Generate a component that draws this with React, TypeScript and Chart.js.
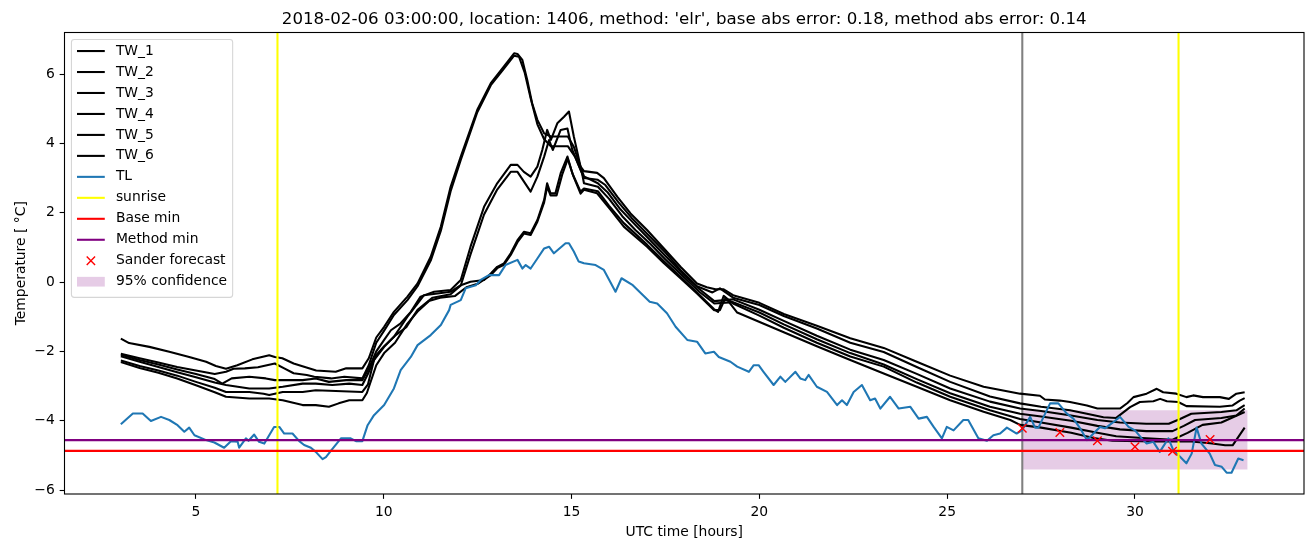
import React, { useEffect, useRef } from "react";
import { Chart, registerables } from "chart.js";

Chart.register(...registerables);

// ---------- data ----------
const X_TICKS = [5, 10, 15, 20, 25, 30];
const Y_TICKS = [-6, -4, -2, 0, 2, 4, 6];
const X_MIN = 1.5;
const X_MAX = 34.5;
const Y_MIN = -6.115;
const Y_MAX = 7.2;

const SUNRISE_T = [7.17, 31.16];
const NOW_T = 27.0;
const BASE_MIN = -4.87;
const METHOD_MIN = -4.56;
const SANDER_T = [27, 28, 29, 30, 31, 32];
const SANDER_V = [-4.22, -4.34, -4.58, -4.75, -4.88, -4.54];
const CONF_T = [27, 33];
const CONF_HI = -3.7;
const CONF_LO = -5.41;

const TW_1: [number, number][] = [
  [3.0, -1.63], [3.22, -1.76], [3.76, -1.87], [4.29, -2.01], [4.82, -2.16], [5.27, -2.3], [5.53, -2.42], [5.8, -2.5],
  [6.1, -2.4], [6.5, -2.23], [6.95, -2.11], [7.1, -2.16], [7.3, -2.2], [7.6, -2.35], [7.9, -2.45], [8.2, -2.55],
  [8.72, -2.59], [9.0, -2.49], [9.43, -2.49], [9.6, -2.2], [9.8, -1.6], [10.01, -1.29], [10.27, -0.86], [10.63, -0.42],
  [10.9, -0.04], [11.25, 0.73], [11.52, 1.6], [11.78, 2.75], [12.05, 3.62], [12.49, 4.97], [12.85, 5.74], [13.2, 6.22],
  [13.47, 6.6], [13.56, 6.58], [13.69, 6.41], [13.82, 5.83], [13.95, 5.16], [14.09, 4.68], [14.27, 4.29], [14.45, 4.2],
  [14.9, 4.2], [15.06, 3.9], [15.24, 3.33], [15.33, 3.2], [15.68, 3.15], [15.86, 3.0], [16.22, 2.46], [16.57, 1.98],
  [17.01, 1.5], [17.46, 0.97], [17.9, 0.44], [18.34, -0.04], [18.6, -0.15], [18.83, -0.21], [19.05, -0.21], [19.3, -0.38],
  [20.0, -0.6], [20.65, -0.92], [21.53, -1.26], [22.42, -1.62], [23.31, -1.9], [24.19, -2.3], [25.08, -2.7], [25.97, -3.02],
  [26.94, -3.22], [27.47, -3.28], [27.6, -3.39], [28.0, -3.42], [28.27, -3.46], [28.72, -3.56], [29.0, -3.65], [29.6, -3.65],
  [29.8, -3.49], [29.96, -3.32], [30.31, -3.22], [30.58, -3.08], [30.75, -3.18], [31.1, -3.22], [31.37, -3.32], [31.55, -3.27],
  [31.81, -3.32], [32.26, -3.32], [32.5, -3.37], [32.7, -3.22], [32.92, -3.18],
];

const TW_2: [number, number][] = [
  [3.0, -2.07], [3.5, -2.2], [4.0, -2.32], [4.5, -2.45], [5.0, -2.55], [5.5, -2.65], [5.8, -2.59], [6.0, -2.5],
  [6.3, -2.49], [6.65, -2.46], [7.1, -2.35], [7.35, -2.49], [7.6, -2.63], [7.95, -2.68], [8.15, -2.73], [8.6, -2.78],
  [8.95, -2.73], [9.43, -2.78], [9.6, -2.4], [9.8, -1.75], [10.01, -1.4], [10.27, -0.95], [10.63, -0.52], [10.9, -0.12],
  [11.25, 0.62], [11.52, 1.48], [11.78, 2.62], [12.05, 3.52], [12.49, 4.9], [12.85, 5.68], [13.2, 6.16], [13.47, 6.53],
  [13.6, 6.5], [13.75, 6.05], [13.9, 5.35], [14.09, 4.55], [14.27, 4.12], [14.45, 3.92], [14.9, 3.92], [15.1, 3.6],
  [15.33, 3.0], [15.7, 2.95], [15.9, 2.8], [16.25, 2.3], [16.6, 1.85], [17.05, 1.35], [17.5, 0.85], [17.9, 0.35],
  [18.34, -0.12], [18.75, -0.3], [18.95, -0.18], [19.3, -0.45], [20.0, -0.66], [20.65, -0.98], [21.53, -1.34], [22.42, -1.75],
  [23.31, -2.02], [24.19, -2.45], [25.08, -2.88], [26.14, -3.3], [26.94, -3.5], [27.5, -3.6], [28.27, -3.7], [28.72, -3.8],
  [29.16, -3.9], [29.5, -3.92], [29.87, -3.61], [30.13, -3.46], [30.49, -3.44], [30.67, -3.37], [30.85, -3.44], [31.15, -3.46],
  [31.37, -3.58], [32.26, -3.6], [32.6, -3.56], [32.79, -3.42], [32.92, -3.35],
];

const TW_3: [number, number][] = [
  [3.0, -2.1], [3.5, -2.25], [4.0, -2.38], [4.5, -2.52], [5.0, -2.65], [5.5, -2.8], [5.7, -2.93], [5.95, -2.78],
  [6.42, -2.73], [6.86, -2.78], [7.1, -2.83], [7.84, -2.83], [8.19, -2.78], [8.54, -2.88], [9.0, -2.83], [9.43, -2.83],
  [9.6, -2.5], [9.8, -2.0], [10.01, -1.67], [10.19, -1.39], [10.45, -1.19], [10.72, -0.86], [10.98, -0.42], [11.34, -0.28],
  [11.78, -0.23], [12.05, 0.06], [12.31, 1.02], [12.67, 2.17], [13.02, 2.85], [13.38, 3.38], [13.56, 3.38], [13.73, 3.18],
  [13.91, 3.04], [14.09, 3.33], [14.22, 3.81], [14.35, 4.39], [14.45, 4.1], [14.62, 4.58], [14.8, 4.77], [14.93, 4.92],
  [15.06, 4.2], [15.24, 3.33], [15.33, 3.05], [15.7, 2.85], [15.95, 2.6], [16.3, 2.1], [16.65, 1.7], [17.1, 1.2],
  [17.5, 0.75], [17.95, 0.25], [18.4, -0.2], [18.8, -0.55], [19.3, -0.5], [20.0, -0.8], [20.65, -1.12], [21.53, -1.55],
  [22.42, -1.95], [23.31, -2.25], [24.19, -2.65], [25.08, -3.07], [26.14, -3.45], [26.94, -3.65], [27.5, -3.72], [28.3, -3.85],
  [29.0, -3.98], [29.6, -4.05], [30.3, -4.09], [30.9, -4.09], [31.2, -3.95], [31.5, -3.8], [32.3, -3.75], [32.7, -3.7],
  [32.92, -3.55],
];

const TW_4: [number, number][] = [
  [3.0, -2.14], [3.5, -2.3], [4.0, -2.45], [4.5, -2.6], [5.0, -2.75], [5.5, -2.9], [5.8, -2.97], [6.42, -3.07],
  [6.95, -3.07], [7.31, -3.02], [7.84, -2.93], [8.19, -2.93], [8.63, -2.97], [9.08, -2.93], [9.43, -2.97], [9.6, -2.6],
  [9.8, -2.1], [10.01, -1.85], [10.3, -1.55], [10.6, -1.3], [10.9, -0.8], [11.3, -0.45], [11.78, -0.35], [12.05, -0.1],
  [12.31, 0.8], [12.67, 1.95], [13.02, 2.67], [13.38, 3.18], [13.56, 3.18], [13.91, 2.61], [14.09, 3.04], [14.27, 3.62],
  [14.4, 4.1], [14.5, 3.81], [14.71, 4.39], [14.89, 4.43], [15.02, 3.81], [15.28, 3.14], [15.33, 2.85], [15.7, 2.75],
  [16.0, 2.4], [16.35, 1.9], [16.7, 1.5], [17.1, 1.1], [17.5, 0.65], [17.95, 0.18], [18.4, -0.28], [18.8, -0.62],
  [19.3, -0.58], [20.0, -0.88], [20.65, -1.22], [21.53, -1.65], [22.42, -2.05], [23.31, -2.38], [24.19, -2.8], [25.08, -3.21],
  [26.14, -3.6], [26.94, -3.8], [27.5, -3.88], [28.3, -4.0], [29.0, -4.15], [29.6, -4.25], [30.3, -4.3], [31.0, -4.3],
  [31.3, -4.15], [31.6, -3.98], [32.3, -3.92], [32.7, -3.85], [32.92, -3.65],
];

const TW_5: [number, number][] = [
  [3.0, -2.26], [3.5, -2.42], [4.0, -2.55], [4.5, -2.7], [5.0, -2.88], [5.5, -3.05], [5.8, -3.17], [6.42, -3.17],
  [6.8, -3.22], [6.95, -3.26], [7.31, -3.17], [7.84, -3.17], [8.19, -3.12], [9.43, -3.17], [9.58, -2.95], [9.74, -2.25],
  [10.01, -1.87], [10.27, -1.58], [10.63, -1.0], [10.9, -0.62], [11.07, -0.38], [11.43, -0.33], [11.78, -0.28], [12.05, -0.09],
  [12.31, 0.01], [12.67, 0.06], [12.85, 0.25], [13.02, 0.44], [13.2, 0.54], [13.38, 0.83], [13.56, 1.21], [13.73, 1.45],
  [13.91, 1.41], [14.09, 1.79], [14.27, 2.37], [14.35, 2.85], [14.44, 2.56], [14.57, 2.56], [14.71, 3.14], [14.89, 3.62],
  [15.02, 3.14], [15.24, 2.61], [15.33, 2.7], [15.7, 2.62], [16.0, 2.2], [16.39, 1.7], [17.01, 1.08], [17.46, 0.6],
  [17.9, 0.15], [18.34, -0.3], [18.79, -0.78], [18.9, -0.86], [19.05, -0.4], [19.3, -0.62], [20.0, -0.97], [20.65, -1.32],
  [21.53, -1.75], [22.42, -2.15], [23.31, -2.44], [24.19, -2.9], [25.08, -3.31], [26.14, -3.7], [26.94, -3.95], [27.5, -4.05],
  [28.3, -4.2], [29.0, -4.35], [29.5, -4.45], [30.2, -4.5], [31.0, -4.55], [31.4, -4.35], [31.8, -4.12], [32.3, -4.05],
  [32.92, -3.75],
];

const TW_6: [number, number][] = [
  [3.0, -2.31], [3.5, -2.48], [4.0, -2.62], [4.5, -2.78], [5.0, -2.98], [5.5, -3.18], [5.8, -3.31], [6.42, -3.36],
  [6.95, -3.36], [7.31, -3.41], [7.84, -3.55], [8.19, -3.55], [8.54, -3.6], [8.8, -3.5], [9.08, -3.41], [9.43, -3.41],
  [9.55, -3.2], [9.8, -2.4], [10.01, -2.05], [10.3, -1.75], [10.63, -1.2], [10.9, -0.85], [11.2, -0.55], [11.5, -0.45],
  [11.9, -0.4], [12.2, -0.15], [12.5, -0.05], [12.85, 0.2], [13.02, 0.4], [13.2, 0.5], [13.38, 0.78], [13.56, 1.15],
  [13.73, 1.4], [13.91, 1.36], [14.09, 1.74], [14.27, 2.3], [14.35, 2.75], [14.44, 2.5], [14.6, 2.5], [14.75, 3.1],
  [14.9, 3.55], [15.05, 3.05], [15.24, 2.55], [15.33, 2.66], [15.68, 2.56], [16.04, 2.08], [16.39, 1.6], [17.01, 1.02],
  [17.46, 0.54], [17.9, 0.11], [18.34, -0.33], [18.79, -0.81], [18.95, -0.81], [19.1, -0.45], [19.41, -0.88], [20.65, -1.45],
  [21.53, -1.85], [22.42, -2.25], [23.31, -2.64], [24.19, -3.02], [25.08, -3.41], [25.97, -3.74], [26.68, -3.98], [26.94, -4.12],
  [27.5, -4.2], [28.3, -4.35], [28.9, -4.5], [29.4, -4.58], [30.5, -4.6], [31.5, -4.6], [32.0, -4.65], [32.4, -4.71],
  [32.6, -4.71], [32.92, -4.2],
];

const TL: [number, number][] = [
  [3.0, -4.1], [3.32, -3.79], [3.58, -3.79], [3.8, -4.01], [4.07, -3.89], [4.29, -3.98], [4.51, -4.13], [4.69, -4.32],
  [4.82, -4.2], [4.96, -4.42], [5.27, -4.56], [5.49, -4.63], [5.75, -4.78], [5.93, -4.59], [6.11, -4.61], [6.15, -4.78],
  [6.33, -4.51], [6.4, -4.58], [6.55, -4.4], [6.68, -4.61], [6.82, -4.66], [7.08, -4.18], [7.22, -4.18], [7.35, -4.37],
  [7.57, -4.37], [7.75, -4.59], [7.88, -4.7], [8.06, -4.78], [8.19, -4.9], [8.37, -5.11], [8.46, -5.05], [8.59, -4.87],
  [8.86, -4.51], [9.12, -4.51], [9.26, -4.59], [9.43, -4.59], [9.57, -4.13], [9.74, -3.84], [10.01, -3.55], [10.27, -3.07],
  [10.45, -2.54], [10.72, -2.16], [10.9, -1.82], [11.25, -1.53], [11.52, -1.24], [11.74, -0.81], [11.78, -0.66], [12.05, -0.52],
  [12.18, -0.18], [12.45, -0.09], [12.58, 0.06], [12.8, 0.2], [13.07, 0.2], [13.24, 0.49], [13.56, 0.64], [13.69, 0.39],
  [13.78, 0.49], [13.91, 0.39], [14.09, 0.68], [14.27, 0.97], [14.4, 1.02], [14.53, 0.83], [14.84, 1.12], [14.93, 1.12],
  [15.06, 0.88], [15.19, 0.59], [15.33, 0.54], [15.64, 0.49], [15.86, 0.35], [16.17, -0.28], [16.33, 0.11], [16.63, -0.09],
  [17.08, -0.57], [17.28, -0.62], [17.54, -0.9], [17.77, -1.29], [18.08, -1.67], [18.34, -1.72], [18.56, -2.06], [18.79, -2.01],
  [18.92, -2.16], [19.23, -2.3], [19.41, -2.44], [19.72, -2.59], [19.85, -2.4], [19.98, -2.4], [20.11, -2.59], [20.38, -2.97],
  [20.56, -2.73], [20.69, -2.88], [20.96, -2.59], [21.09, -2.78], [21.22, -2.83], [21.31, -2.68], [21.53, -3.02], [21.8, -3.17],
  [22.07, -3.55], [22.2, -3.41], [22.33, -3.55], [22.51, -3.17], [22.73, -2.97], [22.95, -3.41], [23.08, -3.36], [23.22, -3.65],
  [23.48, -3.31], [23.71, -3.65], [24.02, -3.6], [24.24, -3.94], [24.46, -3.89], [24.64, -4.18], [24.86, -4.51], [24.99, -4.18],
  [25.17, -4.28], [25.43, -3.98], [25.56, -3.98], [25.83, -4.51], [26.06, -4.58], [26.23, -4.42], [26.41, -4.37], [26.59, -4.2],
  [26.85, -4.37], [26.99, -4.28], [27.21, -3.89], [27.34, -4.2], [27.43, -4.2], [27.74, -3.5], [27.96, -3.5], [28.18, -3.79],
  [28.36, -3.94], [28.54, -4.22], [28.72, -4.56], [28.85, -4.42], [28.94, -4.32], [29.07, -4.18], [29.2, -4.22], [29.38, -4.08],
  [29.6, -3.89], [29.83, -4.18], [30.0, -4.28], [30.18, -4.51], [30.31, -4.66], [30.49, -4.61], [30.66, -4.9], [30.89, -4.51],
  [31.02, -4.85], [31.2, -5.04], [31.37, -5.23], [31.51, -4.95], [31.64, -4.2], [31.77, -4.66], [31.99, -4.95], [32.13, -5.28],
  [32.31, -5.33], [32.44, -5.5], [32.57, -5.5], [32.75, -5.09], [32.89, -5.14],
];

const TW_SERIES = [TW_1, TW_2, TW_3, TW_4, TW_5, TW_6];
const TW_LABELS = ["TW_1", "TW_2", "TW_3", "TW_4", "TW_5", "TW_6"];

const TITLE = "2018-02-06 03:00:00, location: 1406, method: 'elr', base abs error: 0.18, method abs error: 0.14";
const X_LABEL = "UTC time [hours]";
const Y_LABEL = "Temperature [ \u00b0C]";

// ---------- styles ----------
const FONT = "DejaVu Sans";
const LW = 2.08;
const C_TL = "#1f77b4";
const C_SUN = "#ffff00";
const C_BASE = "#ff0000";
const C_METHOD = "#800080";
const C_NOW = "#808080";
const C_CONF = "rgba(128,0,128,0.2)";

const xy = (arr: [number, number][]) => arr.map(([x, y]) => ({ x, y }));
const fmt = (v: number) => (v < 0 ? "\u2212" + Math.abs(v) : String(v));

const LEGEND = [
  ...TW_LABELS.map((l) => ({ label: l, kind: "line", color: "#000000" })),
  { label: "TL", kind: "line", color: C_TL },
  { label: "sunrise", kind: "line", color: C_SUN },
  { label: "Base min", kind: "line", color: C_BASE },
  { label: "Method min", kind: "line", color: C_METHOD },
  { label: "Sander forecast", kind: "x", color: "#ff0000" },
  { label: "95% confidence", kind: "patch", color: C_CONF },
];

const decorPlugin = {
  id: "mplDecor",
  afterDraw(chart: any) {
    const ctx = chart.ctx as CanvasRenderingContext2D;
    const a = chart.chartArea;
    ctx.save();
    // spines
    ctx.strokeStyle = "#000";
    ctx.lineWidth = 1.1;
    ctx.strokeRect(a.left, a.top, a.right - a.left, a.bottom - a.top);

    // title
    ctx.fillStyle = "#000";
    ctx.font = `16.67px "${FONT}"`;
    ctx.textAlign = "center";
    ctx.textBaseline = "alphabetic";
    ctx.fillText(TITLE, (a.left + a.right) / 2, a.top - 8.3);

    // x label
    ctx.font = `13.89px "${FONT}"`;
    ctx.fillText(X_LABEL, (a.left + a.right) / 2, 536);

    // y label
    ctx.save();
    ctx.translate(25, (a.top + a.bottom) / 2);
    ctx.rotate(-Math.PI / 2);
    ctx.fillText(Y_LABEL, 0, 0);
    ctx.restore();

    // legend
    const fs = 13.89;
    ctx.font = `${fs}px "${FONT}"`;
    const x0 = a.left + 0.5 * fs;
    const y0 = a.top + 0.5 * fs;
    const hx0 = x0 + 0.4 * fs;
    const hx1 = hx0 + 2 * fs;
    const tx = hx1 + 0.8 * fs;
    let maxW = 0;
    LEGEND.forEach((e) => {
      maxW = Math.max(maxW, ctx.measureText(e.label).width);
    });
    const rowH = 20.97;
    const w = tx - x0 + maxW + 0.4 * fs;
    const h = LEGEND.length * rowH + 0.4 * fs * 2 - (rowH - fs * 1.16);
    const r = 2.8;
    ctx.beginPath();
    ctx.moveTo(x0 + r, y0);
    ctx.lineTo(x0 + w - r, y0);
    ctx.arcTo(x0 + w, y0, x0 + w, y0 + r, r);
    ctx.lineTo(x0 + w, y0 + h - r);
    ctx.arcTo(x0 + w, y0 + h, x0 + w - r, y0 + h, r);
    ctx.lineTo(x0 + r, y0 + h);
    ctx.arcTo(x0, y0 + h, x0, y0 + h - r, r);
    ctx.lineTo(x0, y0 + r);
    ctx.arcTo(x0, y0, x0 + r, y0, r);
    ctx.closePath();
    ctx.fillStyle = "rgba(255,255,255,0.8)";
    ctx.fill();
    ctx.strokeStyle = "rgba(204,204,204,0.8)";
    ctx.lineWidth = 1.1;
    ctx.stroke();

    ctx.textAlign = "left";
    ctx.textBaseline = "middle";
    LEGEND.forEach((e, i) => {
      const cy = y0 + 11.6 + i * rowH;
      if (e.kind === "line") {
        ctx.strokeStyle = e.color;
        ctx.lineWidth = LW;
        ctx.beginPath();
        ctx.moveTo(hx0, cy);
        ctx.lineTo(hx1, cy);
        ctx.stroke();
      } else if (e.kind === "x") {
        const cx = (hx0 + hx1) / 2;
        const s = 4.17;
        ctx.strokeStyle = e.color;
        ctx.lineWidth = 1.4;
        ctx.beginPath();
        ctx.moveTo(cx - s, cy - s);
        ctx.lineTo(cx + s, cy + s);
        ctx.moveTo(cx - s, cy + s);
        ctx.lineTo(cx + s, cy - s);
        ctx.stroke();
      } else {
        ctx.fillStyle = e.color;
        ctx.fillRect(hx0, cy - 0.35 * fs, hx1 - hx0, 0.7 * fs);
      }
      ctx.fillStyle = "#000";
      ctx.fillText(e.label, tx, cy);
    });
    ctx.restore();
  },
};

const lineDs = (label: string, data: any[], color: string, width = LW) => ({
  label,
  data,
  borderColor: color,
  backgroundColor: color,
  borderWidth: width,
  pointRadius: 0,
  pointHoverRadius: 0,
  tension: 0,
  fill: false,
  borderJoinStyle: "round" as const,
});

export default function App() {
  const ref = useRef<HTMLCanvasElement | null>(null);

  useEffect(() => {
    if (!ref.current) return;
    const datasets: any[] = [];
    // first = top-most
    datasets.push({
      label: "Sander forecast",
      data: SANDER_T.map((t, i) => ({ x: t, y: SANDER_V[i] })),
      showLine: false,
      pointStyle: "crossRot",
      pointRadius: 6,
      pointHoverRadius: 6,
      pointBorderWidth: 1.4,
      borderColor: "#ff0000",
      backgroundColor: "#ff0000",
    });
    datasets.push(lineDs("Method min", [{ x: X_MIN, y: METHOD_MIN }, { x: X_MAX, y: METHOD_MIN }], C_METHOD));
    datasets.push(lineDs("Base min", [{ x: X_MIN, y: BASE_MIN }, { x: X_MAX, y: BASE_MIN }], C_BASE));
    SUNRISE_T.forEach((t, i) =>
      datasets.push(lineDs("sunrise" + i, [{ x: t, y: Y_MIN }, { x: t, y: Y_MAX }], C_SUN))
    );
    datasets.push(lineDs("TL", xy(TL), C_TL));
    for (let i = TW_SERIES.length - 1; i >= 0; i--) {
      datasets.push(lineDs(TW_LABELS[i], xy(TW_SERIES[i]), "#000000"));
    }
    datasets.push(lineDs("now", [{ x: NOW_T, y: Y_MIN }, { x: NOW_T, y: Y_MAX }], C_NOW));
    datasets.push({
      ...lineDs("95% confidence", CONF_T.map((t) => ({ x: t, y: CONF_HI })), "rgba(0,0,0,0)", 0),
      fill: "+1",
      backgroundColor: C_CONF,
    });
    datasets.push(lineDs("conf_lo", CONF_T.map((t) => ({ x: t, y: CONF_LO })), "rgba(0,0,0,0)", 0));

    const axisCommon = {
      type: "linear" as const,
      border: { display: false },
      grid: {
        display: true,
        drawOnChartArea: false,
        drawTicks: true,
        tickLength: 4.86,
        tickWidth: 1.1,
        tickColor: "#000",
      },
      ticks: {
        color: "#000",
        font: { family: FONT, size: 13.89 },
        padding: 4.86,
        maxRotation: 0,
        autoSkip: false,
        callback: (v: any) => fmt(Number(v)),
      },
    };

    const chart = new Chart(ref.current, {
      type: "line",
      data: { datasets },
      options: {
        responsive: false,
        maintainAspectRatio: false,
        animation: false,
        devicePixelRatio: 1,
        events: [],
        layout: { padding: { left: 0, right: 9, top: 32.5, bottom: 0 } },
        plugins: {
          legend: { display: false },
          tooltip: { enabled: false },
          title: { display: false },
        },
        scales: {
          x: {
            ...axisCommon,
            min: X_MIN,
            max: X_MAX,
            afterFit: (s: any) => {
              s.height = 53;
            },
            afterBuildTicks: (s: any) => {
              s.ticks = X_TICKS.map((v) => ({ value: v }));
            },
          },
          y: {
            ...axisCommon,
            min: Y_MIN,
            max: Y_MAX,
            afterFit: (s: any) => {
              s.width = 64.5;
            },
            afterBuildTicks: (s: any) => {
              s.ticks = Y_TICKS.map((v) => ({ value: v }));
            },
          },
        } as any,
      },
      plugins: [decorPlugin],
    });
    return () => chart.destroy();
  }, []);

  return (
    <div style={{ position: "fixed", left: 0, top: 0, width: 1313, height: 547, background: "#fff" }}>
      <canvas ref={ref} width={1313} height={547} style={{ display: "block", width: 1313, height: 547 }} />
    </div>
  );
}
